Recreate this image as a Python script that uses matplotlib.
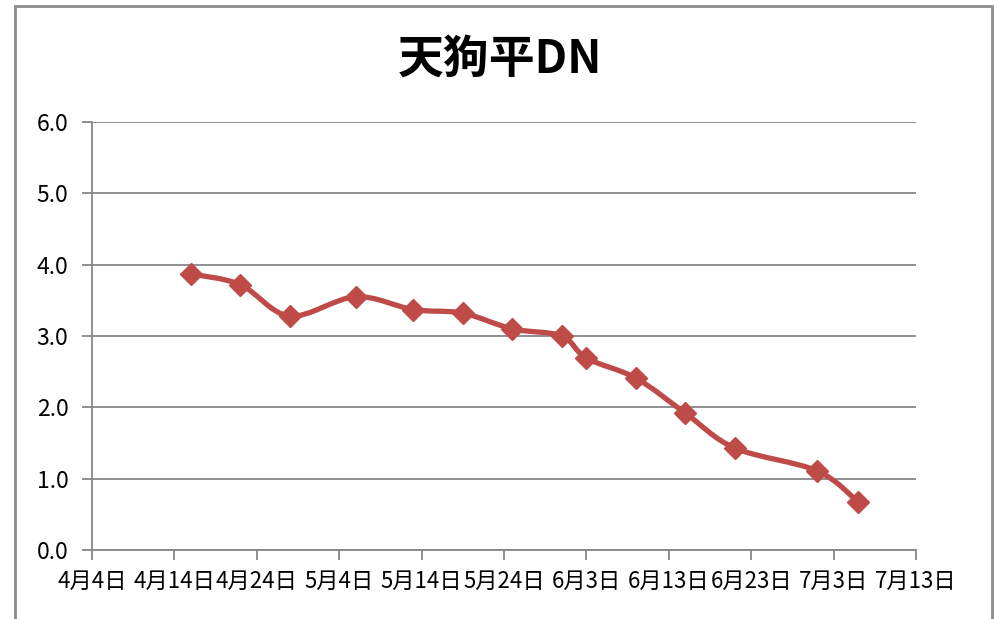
import matplotlib.pyplot as plt
import matplotlib.dates as mdates
from matplotlib.path import Path
from matplotlib.patches import PathPatch, Rectangle
import numpy as np
import datetime as dt

plt.rcParams['font.family'] = ['Noto Sans CJK JP', 'DejaVu Sans']

# measurement dates (month, day) and values
dates = [(4, 16), (4, 22), (4, 28), (5, 6), (5, 13), (5, 19), (5, 25),
         (5, 31), (6, 3), (6, 9), (6, 15), (6, 21), (7, 1), (7, 6)]
values = [3.87, 3.72, 3.28, 3.55, 3.37, 3.32, 3.10,
          3.00, 2.69, 2.41, 1.92, 1.43, 1.11, 0.67]
title = '天狗平DN'
year = 2013

color = '#BE4B48'

x = np.array([mdates.date2num(dt.date(year, m, d)) for m, d in dates])
y = np.array(values)

fig = plt.figure(figsize=(9.94, 6.19), dpi=100)
ax = fig.add_axes([92/994, 1-550/619, (916-92)/994, (550-122)/619])

# smoothed line (Excel-like bezier through the points)
pts = np.column_stack([x, y])
verts = [pts[0]]
codes = [Path.MOVETO]
n = len(pts)
for i in range(n - 1):
    p0 = pts[i - 1] if i > 0 else pts[i]
    p1 = pts[i]
    p2 = pts[i + 1]
    p3 = pts[i + 2] if i + 2 < n else pts[i + 1]
    c1 = p1 + (p2 - p0) / 6
    c2 = p2 - (p3 - p1) / 6
    verts += [c1, c2, p2]
    codes += [Path.CURVE4] * 3
ax.add_patch(PathPatch(Path(verts, codes), fill=False, edgecolor=color,
                       lw=3.8, capstyle='round', joinstyle='round', zorder=3))
ax.plot(x, y, ls='', marker='D', ms=11, color=color, zorder=4)

start = mdates.date2num(dt.date(year, 4, 4))
ticks = [start + 10 * k for k in range(11)]
ax.set_xlim(ticks[0], ticks[-1])
ax.set_xticks(ticks)
labels = []
for t in ticks:
    d = mdates.num2date(t)
    labels.append(f'{d.month}月{d.day}日')
ax.set_xticklabels(labels, fontsize=16)

ax.set_ylim(0, 6)
ax.set_yticks(np.arange(0, 6.1, 1))
ax.set_yticklabels([f'{v:.1f}' for v in np.arange(0, 6.1, 1)], fontsize=16.5)
ax.grid(axis='y', color='#878787', lw=1.3)
ax.set_axisbelow(True)

for s in ['top', 'right']:
    ax.spines[s].set_visible(False)
for s in ['left', 'bottom']:
    ax.spines[s].set_color('#878787')
    ax.spines[s].set_linewidth(1.3)
ax.tick_params(axis='x', direction='out', length=7, color='#878787', width=1.3, pad=7)
ax.tick_params(axis='y', direction='out', length=7, color='#878787', width=1.3, pad=10)

fig.text(500/994, 1-60/619, title, ha='center', va='center',
         fontsize=33, fontweight='bold')

fig.patches.append(Rectangle((15/994, -0.05), (992-15)/994, 1.05 - 6/619,
                             transform=fig.transFigure, fill=False,
                             edgecolor='#8C8C8C', lw=2))

fig.savefig('out.png', dpi=100)
